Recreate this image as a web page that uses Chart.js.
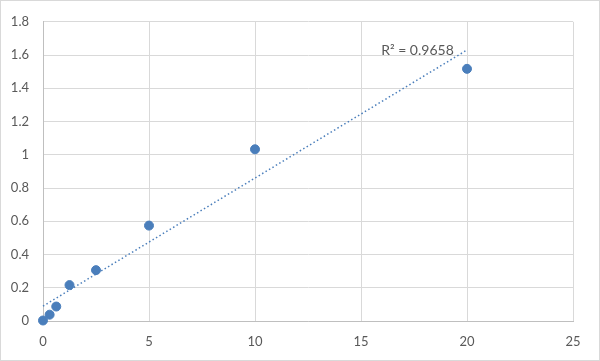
<!DOCTYPE html>
<html>
<head>
<meta charset="utf-8">
<script src="https://cdn.jsdelivr.net/npm/chart.js@4/dist/chart.umd.min.js"></script>
<style>
html,body{margin:0;padding:0;background:#fff;}
#wrap{width:600px;height:361px;position:relative;}
</style>
</head>
<body>
<div id="wrap"><canvas id="c" width="600" height="361"></canvas></div>
<script>
const xValues = [0, 0.3125, 0.625, 1.25, 2.5, 5, 10, 20];
const yValues = [0.003, 0.038, 0.087, 0.216, 0.306, 0.574, 1.033, 1.517];
const xTicks = [0, 5, 10, 15, 20, 25];
const yTicks = [0, 0.2, 0.4, 0.6, 0.8, 1, 1.2, 1.4, 1.6, 1.8];
const r2Label = 'R\u00B2 = 0.9658';

// least-squares linear trendline
const n = xValues.length;
const mx = xValues.reduce((a,b)=>a+b,0)/n;
const my = yValues.reduce((a,b)=>a+b,0)/n;
let sxx=0, sxy=0;
for (let i=0;i<n;i++){ sxx+=(xValues[i]-mx)**2; sxy+=(xValues[i]-mx)*(yValues[i]-my); }
const slope = sxy/sxx, intercept = my - slope*mx;
const xMin = Math.min(...xValues), xMax = Math.max(...xValues);
const trend = [{x:xMin,y:intercept+slope*xMin},{x:xMax,y:intercept+slope*xMax}];

const points = xValues.map((x,i)=>({x, y:yValues[i]}));
const blue = '#4a7ebb';
const fontFam = 'Lato, "Liberation Sans", sans-serif';

const extras = {
  id:'extras',
  afterDatasetsDraw(chart){
    const {ctx, scales:{x,y}} = chart;
    ctx.save();
    ctx.font = '14px ' + fontFam;
    ctx.fillStyle = '#595959';
    ctx.textAlign = 'left';
    ctx.textBaseline = 'middle';
    ctx.fillText(r2Label, x.getPixelForValue(15.95), y.getPixelForValue(1.63));
    ctx.restore();
  },
  afterDraw(chart){
    const ctx = chart.ctx;
    ctx.save();
    ctx.strokeStyle = '#d9d9d9';
    ctx.lineWidth = 1;
    ctx.strokeRect(0.5,0.5,chart.width-1,chart.height-1);
    ctx.restore();
  }
};

new Chart(document.getElementById('c'), {
  type:'scatter',
  data:{datasets:[
    {data:points, backgroundColor:blue, borderColor:blue, pointRadius:4.5, pointHoverRadius:4.5, clip:false, order:2},
    {type:'line', data:trend, borderColor:blue, borderWidth:1.5, borderDash:[1.5,2.5], pointRadius:0, fill:false, showLine:true, clip:false, order:1}
  ]},
  options:{
    responsive:false, animation:false,
    layout:{padding:{left:0, top:19, right:27, bottom:0}},
    plugins:{legend:{display:false}, tooltip:{enabled:false}},
    scales:{
      x:{type:'linear', min:0, max:25,
        afterBuildTicks(s){ s.ticks = xTicks.map(v=>({value:v})); },
        afterFit(s){ s.height = 40; },
        grid:{color:'#d9d9d9', drawTicks:false, lineWidth:1},
        border:{color:'#bfbfbf', width:1},
        ticks:{padding:13, color:'#595959', font:{family:fontFam, size:13}}
      },
      y:{type:'linear', min:0, max:1.8,
        afterBuildTicks(s){ s.ticks = yTicks.map(v=>({value:v})); },
        afterFit(s){ s.width = 43; },
        grid:{color:'#d9d9d9', drawTicks:false, lineWidth:1},
        border:{color:'#bfbfbf', width:1},
        ticks:{padding:14, color:'#595959', font:{family:fontFam, size:13}, callback:(v)=>String(v)}
      }
    }
  },
  plugins:[extras]
});
</script>
</body>
</html>
